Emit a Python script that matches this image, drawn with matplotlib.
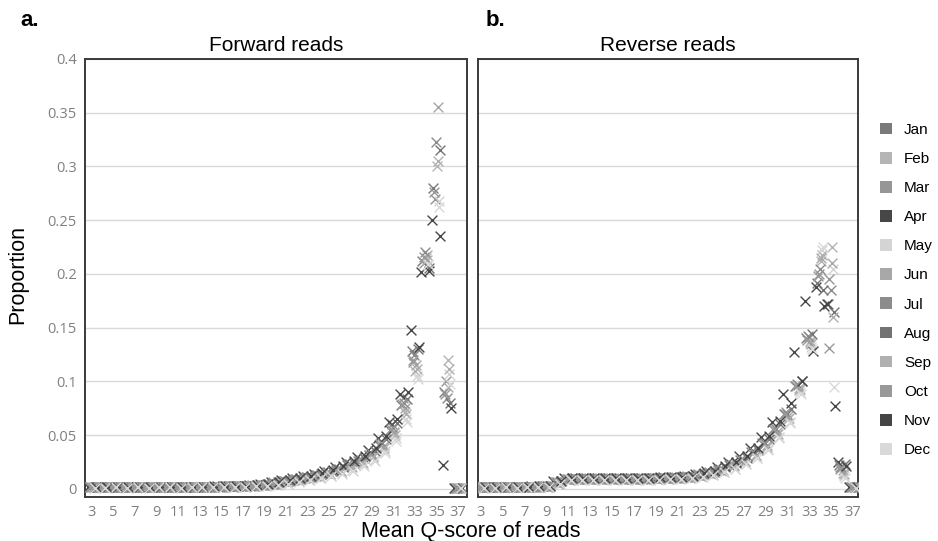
import matplotlib
matplotlib.use("Agg")
import matplotlib.pyplot as plt
import numpy as np
from matplotlib.patches import Patch

# mean Q-score bins shown on the x axis
qscore = list(range(3, 38))
months = ['Jan', 'Feb', 'Mar', 'Apr', 'May', 'Jun',
          'Jul', 'Aug', 'Sep', 'Oct', 'Nov', 'Dec']

# forward reads, proportion x1000, Q3..Q37
fwd_jan = [2,2,2,2,2,2,2,2,2,2,2,2,2,3,3, 3,4,5,7,8,10,12,15,18,22,26,32,41,55,78, 128,212,280,90,1]
fwd_feb = [2,2,2,2,2,2,2,2,2,2,2,2,2,2,3, 3,4,5,6,8,10,12,14,17,21,25,31,39,52,72, 110,215,300,120,1]
fwd_mar = [2,2,2,2,2,2,2,2,2,2,2,2,2,3,3, 4,4,6,7,9,11,13,16,19,23,28,34,44,60,85, 118,210,270,100,1]
fwd_apr = [2,2,2,2,2,2,2,2,2,2,2,2,3,3,3, 4,5,6,8,10,12,14,17,20,25,30,36,47,62,88, 148,202,250,22,1]
fwd_may = [1,2,1,2,1,2,2,1,2,2,2,2,2,2,2, 3,3,4,5,7,8,10,12,15,18,22,27,35,47,65, 105,208,268,107,1]
fwd_jun = [2,2,2,2,2,2,2,2,2,2,2,2,2,2,3, 3,4,5,6,8,10,12,14,17,21,25,31,40,53,75, 115,218,355,95,1]
fwd_jul = [2,2,2,2,2,2,2,2,2,2,2,2,2,3,3, 3,4,5,7,9,11,13,16,19,23,27,33,43,57,80, 125,220,323,85,1]
fwd_aug = [2,2,2,2,2,2,2,2,2,2,2,2,3,3,3, 4,5,6,7,9,11,14,17,20,24,29,35,46,61,84, 130,206,315,80,1]
fwd_sep = [2,2,2,2,2,2,2,2,2,2,2,2,2,2,3, 3,4,5,6,8,9,11,14,17,20,24,30,38,50,70, 112,213,305,112,1]
fwd_oct = [2,2,2,2,2,2,2,2,2,2,2,2,2,3,3, 3,4,5,7,8,10,12,15,18,22,26,32,42,56,79, 120,216,276,88,1]
fwd_nov = [2,2,2,2,2,2,2,2,2,2,2,3,3,3,3, 4,5,6,8,10,12,15,18,21,26,31,38,49,65,90, 132,203,235,75,1]
fwd_dec = [1,1,2,1,2,1,2,2,1,2,2,2,2,2,2, 3,3,4,5,6,8,10,12,14,17,21,26,33,45,62, 102,209,262,98,1]

# reverse reads, proportion x1000, Q3..Q37
rev_jan = [2,2,2,2,2,2,3, 6,9,9,9,9,9,9,9,9,10,10,10, 11,13,15,18,22,27,34,43,56,70,96, 140,192,172,22,2]
rev_feb = [2,2,2,2,2,2,2, 5,8,9,9,9,9,9,9,9,9,9,10, 11,12,14,17,21,25,31,39,51,65,92, 136,212,225,15,2]
rev_mar = [2,2,2,2,2,2,3, 6,9,9,10,10,10,10,10,10,10,10,11, 12,14,16,19,23,28,35,44,57,72,98, 142,200,195,20,2]
rev_apr = [2,2,2,2,2,3,3, 7,10,10,10,10,10,10,10,10,10,11,11, 12,14,17,20,25,31,38,48,62,88,127, 175,188,172,25,2]
rev_may = [1,2,1,2,2,2,2, 5,8,8,8,8,8,8,8,8,9,9,9, 10,11,13,16,19,23,29,37,48,62,90, 132,222,205,12,1]
rev_jun = [2,2,2,2,2,2,2, 6,9,9,9,9,9,9,9,9,9,10,10, 11,13,15,18,22,26,32,41,53,68,94, 138,215,210,18,2]
rev_jul = [2,2,2,2,2,2,3, 6,9,9,9,9,9,9,9,9,10,10,10, 11,13,15,18,22,27,34,43,56,70,97, 141,205,185,20,2]
rev_aug = [2,2,2,2,2,2,3, 7,10,10,10,10,10,10,10,10,10,10,11, 12,14,16,20,24,29,36,46,60,74,100, 144,185,165,23,2]
rev_sep = [2,2,2,2,2,2,2, 5,8,9,9,9,9,9,9,9,9,9,10, 10,12,14,17,21,25,31,39,51,66,93, 135,218,160,14,2]
rev_oct = [2,2,2,2,2,2,3, 6,9,9,9,9,9,9,9,9,10,10,10, 11,13,15,18,22,27,33,42,55,70,96, 139,198,131,19,2]
rev_nov = [2,2,2,2,2,3,3, 7,10,10,10,10,10,10,10,10,11,11,11, 12,15,17,21,25,31,38,49,63,80,100, 128,170,77,21,2]
rev_dec = [1,1,2,1,2,2,2, 5,8,8,8,8,8,8,8,8,8,9,9, 10,11,13,16,19,23,29,36,47,61,88, 130,225,95,10,1]

forward = [fwd_jan, fwd_feb, fwd_mar, fwd_apr, fwd_may, fwd_jun,
           fwd_jul, fwd_aug, fwd_sep, fwd_oct, fwd_nov, fwd_dec]
reverse = [rev_jan, rev_feb, rev_mar, rev_apr, rev_may, rev_jun,
           rev_jul, rev_aug, rev_sep, rev_oct, rev_nov, rev_dec]

# styling
colors = ['#7a7a7a', '#b5b5b5', '#969696', '#474747', '#d4d4d4', '#a8a8a8',
          '#8c8c8c', '#737373', '#b0b0b0', '#999999', '#454545', '#d9d9d9']
shift = [-0.30, 0.05, -0.15, -0.40, 0.20, 0.10, -0.05, 0.30, 0.15, -0.20, 0.35, 0.25]

plt.rcParams['font.family'] = ['Liberation Sans', 'DejaVu Sans']
tick_font = ['Open Sans', 'DejaVu Sans']

fig = plt.figure(figsize=(9.38, 5.41), dpi=100)
ax1 = fig.add_axes([85/938, 44/541, 382/938, 438/541])
ax2 = fig.add_axes([478/938, 44/541, 380/938, 438/541])

q = np.array(qscore)
for ax, data, xlim in [(ax1, forward, (2.35, 37.84)), (ax2, reverse, (2.73, 37.46))]:
    for i in range(12):
        ax.scatter(q + shift[i], np.array(data[i]) / 1000.0, marker='x',
                   s=50, linewidths=1.0, color=colors[i], zorder=3)
    ax.set_xlim(*xlim)
    ax.set_ylim(-0.0075, 0.4)
    ax.set_yticks(np.arange(0, 0.401, 0.05))
    ax.set_xticks(qscore[::2])
    ax.set_xticklabels([str(v) for v in qscore[::2]], fontsize=10.5,
                       color='#808080', family=tick_font)
    ax.grid(axis='y', color='#d9d9d9', linewidth=1.0, zorder=0)
    ax.tick_params(length=0, pad=6)
    for sp in ax.spines.values():
        sp.set_color('#3a3a3a')
        sp.set_linewidth(1.4)

ax1.set_yticklabels(['0', '0.05', '0.1', '0.15', '0.2', '0.25', '0.3', '0.35', '0.4'],
                    fontsize=10.5, color='#808080', family=tick_font)
ax2.set_yticklabels([])

ax1.set_title('Forward reads', fontsize=15, pad=6)
ax2.set_title('Reverse reads', fontsize=15, pad=6)
fig.text(20/938, 1 - 20/541, 'a.', fontsize=16, fontweight='bold', va='center')
fig.text(486/938, 1 - 20/541, 'b.', fontsize=16, fontweight='bold', va='center')
fig.text(18/938, 1 - 275/541, 'Proportion', fontsize=15.5, rotation=90,
         va='center', ha='center')
fig.text(471/938, 1 - 531/541, 'Mean Q-score of reads', fontsize=15.5,
         va='center', ha='center')

handles = [Patch(facecolor=c, edgecolor='none') for c in colors]
fig.legend(handles, months, loc='upper left', bbox_to_anchor=(869/938, 1 - 112/541),
           frameon=False, fontsize=11, handlelength=0.8, handleheight=0.8,
           labelspacing=0.98, handletextpad=0.8, borderaxespad=0.3)

fig.savefig('out.png', dpi=100)
